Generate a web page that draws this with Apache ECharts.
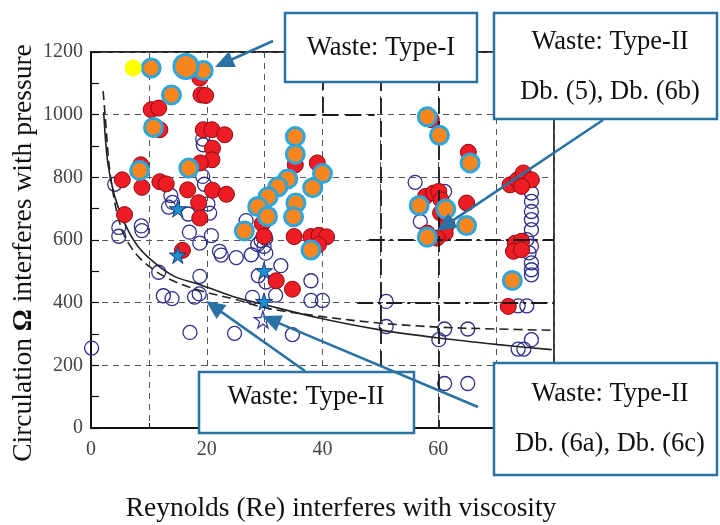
<!DOCTYPE html>
<html><head><meta charset="utf-8">
<script src="https://cdn.jsdelivr.net/npm/echarts@6/dist/echarts.min.js"></script>
<style>html,body{margin:0;padding:0;background:#fff}#c{width:720px;height:525px}</style>
</head><body><div id="c"></div>
<script>
// ---- data ----
const openCircles = [
  [0.1,255],[4.1,778],[4.8,640],[4.8,612],[8.7,645],[8.8,630],
  [19.3,922],[19.4,904],[19.3,803],[19.6,778],
  [13.8,742],[14.1,720],[13.4,705],[16.8,683],[20.2,715],[20.5,686],
  [17.0,625],[18.8,590],[20.8,614],[22.2,564],[22.5,552],[25.1,544],[27.7,553],[26.8,662],
  [28.8,585],[29.4,598],[29.9,580],[30.2,605],[30.2,558],[32.8,518],[28.9,486],[30.2,466],[38.0,470],
  [11.7,497],[18.8,484],[17.9,418],[18.7,428],[12.5,422],[14.0,413],
  [17.1,305],[24.8,302],[27.9,417],[31.9,424],[38.0,407],[40.0,407],[34.8,298],
  [56.0,784],[61.1,755],[56.9,659],[76.1,750],[76.1,723],[76.1,691],[76.1,665],[76.1,633],
  [75.3,601],[76.1,580],[75.7,559],[76.1,527],[76.1,505],[76.1,489],[51.0,404],[51.0,324],
  [61.1,316],[60.1,282],[65.1,316],[61.1,142],[65.1,142],[73.8,390],[75.3,390],[73.8,252],[74.8,252],[76.1,282]
];
const redCircles = [
  [18.8,1117],[19.0,1063],[19.8,1061],[10.4,1016],[11.7,1021],[11.9,952],[19.4,952],[20.9,952],
  [23.1,936],[21.0,893],[20.9,856],[18.9,846],[5.4,792],[8.8,768],[8.6,840],[11.9,786],[13.0,779],
  [16.7,760],[21.0,759],[23.4,746],[18.6,719],[18.8,670],[5.8,681],[35.1,611],[38.0,611],[39.4,615],
  [40.7,610],[39.3,585],[15.8,567],[39.1,846],[35.3,840],[29.6,652],[29.9,612],[32.0,470],[34.8,443],
  [58.8,984],[65.2,880],[72.4,776],[73.7,792],[74.7,814],[76.1,792],[74.4,771],[57.8,739],[59.2,750],
  [60.1,755],[60.5,728],[64.9,718],[60.4,686],[61.5,649],[61.2,622],[58.1,622],[59.8,606],[73.3,590],
  [74.4,596],[73.0,564],[74.4,569],[72.1,388]
];
const orangeCircles = [
  [10.4,1149],[19.4,1141],[13.9,1063],[10.8,959],[8.4,822],[16.9,830],
  [35.3,930],[35.3,874],[34.0,795],[40.0,812],[38.3,767],[32.3,770],[30.6,738],[28.8,707],
  [30.5,675],[35.4,718],[35.0,674],[26.5,629],[38.0,568],
  [58.1,993],[60.2,934],[65.5,846],[56.7,710],[61.3,699],[64.9,646],[58.1,609],[72.8,471]
];
const orangeBig = [[16.4,1154]];
const filledStars = [[15.0,700],[15.0,552],[29.9,502],[29.9,404]];
const hollowStars = [[29.7,346]];
const yellowPoint = [[7.3,1149]];
const solidCurve = [[2.2,1008],[2.9,846],[4.1,739],[5.8,654],[8.1,580],[11.0,527],[14.4,484],[18.6,459],
  [24.5,420],[29.9,394],[39.4,351],[49.7,314],[60.1,287],[70.4,266],[79.6,250]];
const dashedCurve = [[2.1,1075],[2.5,984],[3.4,800],[5.2,640],[7.5,562],[10.4,511],[13.8,473],[18.4,441],
  [25.0,410],[30.2,383],[39.4,357],[49.7,335],[60.1,322],[70.0,316],[79.6,312]];
const xTickLabels = [0,20,40,60,80];
const yTickLabels = [0,200,400,600,800,1000,1200];
// heavy dark overlay dashes visible in the figure (data coordinates)
const heavyLines = [
  [[36,1000],[49,1000]],[[40,1130],[40,1000]],[[50,1200],[50,0]],[[60,1200],[60,0]]
];
const heavyDashDot = [[[48,600],[80,600]],[[46,400],[80,400]]];

// ---- chart ----
const SERIF = "'Liberation Serif','DejaVu Serif',serif";
const C = '#2a72a3';
const STAR = 'path://M50,0 L61,35 L98,35 L68,57 L79,91 L50,70 L21,91 L32,57 L2,35 L39,35 Z';

function arrow(x1,y1,x2,y2){
  const L=19, W=8.5;
  const dx=x2-x1, dy=y2-y1, d=Math.hypot(dx,dy), ux=dx/d, uy=dy/d;
  const bx=x2-ux*L, by=y2-uy*L;
  return [
    {type:'line', z:100, shape:{x1:x1,y1:y1,x2:bx+ux*2,y2:by+uy*2}, style:{stroke:C,lineWidth:2.6}},
    {type:'polygon', z:100, shape:{points:[[x2,y2],[bx-uy*W,by+ux*W],[bx+uy*W,by-ux*W]]}, style:{fill:C}}
  ];
}
function box(x,y,w,h){
  return {type:'rect', z:100, shape:{x:x,y:y,width:w,height:h}, style:{fill:'#fff',stroke:C,lineWidth:2.5}};
}
function txt(x,y,s){
  return {type:'text', z:101, x:x, y:y, style:{text:s, fontFamily:SERIF, fontSize:26.5, fill:'#111',
    textAlign:'center', textVerticalAlign:'middle'}};
}

const chart = echarts.init(document.getElementById('c'), null, {renderer:'canvas'});
chart.setOption({
  animation:false,
  backgroundColor:'#fff',
  grid:{left:91,right:166,top:52,bottom:97,show:true,borderColor:'#222',borderWidth:1.8,backgroundColor:'transparent'},
  xAxis:{type:'value',min:0,max:80,interval:10,
    axisLine:{show:true,lineStyle:{color:'#111',width:2}},
    axisTick:{show:true,inside:true,length:5,lineStyle:{color:'#111'}},
    axisLabel:{margin:12,color:'#444',fontFamily:SERIF,fontSize:20,
      formatter:v=>xTickLabels.indexOf(v)>=0?String(v):''},
    splitLine:{show:true,lineStyle:{color:'#555',type:[6,5],width:1}}},
  yAxis:{type:'value',min:0,max:1200,interval:200,
    axisLine:{show:true,lineStyle:{color:'#111',width:2}},
    axisTick:{show:true,inside:true,length:8,lineStyle:{color:'#111',width:1.2}},
    minorTick:{show:true,splitNumber:2,length:8,lineStyle:{color:'#111',width:1.2}},
    axisLabel:{margin:8,color:'#444',fontFamily:SERIF,fontSize:20,
      formatter:v=>yTickLabels.indexOf(v)>=0?String(v):''},
    splitLine:{show:true,lineStyle:{color:'#555',type:[6,5],width:1}}},
  series:[
    {type:'scatter',data:openCircles,symbol:'circle',symbolSize:14,z:2,
      itemStyle:{color:'rgba(255,255,255,0)',borderColor:'#2e2e8e',borderWidth:1.3,opacity:1}},
    {type:'line',data:solidCurve,smooth:0.35,symbol:'none',z:3,
      lineStyle:{color:'#222',width:1.6},
      markLine:{silent:true,symbol:'none',label:{show:false},
        lineStyle:{color:'#1a1a1a',width:1.8,type:[16,7]},
        data:heavyLines.map(l=>[{coord:l[0]},{coord:l[1]}]).concat(
          heavyDashDot.map(l=>[{coord:l[0],lineStyle:{type:[16,5,3,5]}},{coord:l[1]}]))}},
    {type:'line',data:dashedCurve,smooth:0.35,symbol:'none',z:3,
      lineStyle:{color:'#222',width:1.6,type:[9,5]}},
    {type:'scatter',data:redCircles,symbol:'circle',symbolSize:16,z:4,
      itemStyle:{color:'#ee1c25',borderColor:'#8a0c10',borderWidth:1,opacity:1}},
    {type:'scatter',data:orangeCircles,symbol:'circle',symbolSize:18,z:5,
      itemStyle:{color:'#f7861f',borderColor:'#2ea6dc',borderWidth:3,opacity:1}},
    {type:'scatter',data:orangeBig,symbol:'circle',symbolSize:24,z:5,
      itemStyle:{color:'#f7861f',borderColor:'#2ea6dc',borderWidth:3,opacity:1}},
    {type:'scatter',data:filledStars,symbol:STAR,symbolSize:17,z:6,
      itemStyle:{color:'#1b8fd2',borderColor:'#1d3c78',borderWidth:1,opacity:1}},
    {type:'scatter',data:hollowStars,symbol:STAR,symbolSize:17,z:6,
      itemStyle:{color:'rgba(255,255,255,0)',borderColor:'#3a3aa0',borderWidth:1.3,opacity:1}},
    {type:'scatter',data:yellowPoint,symbol:'circle',symbolSize:17,z:6,
      itemStyle:{color:'#ffff00',opacity:1}}
  ],
  graphic:[
    {type:'text', z:101, x:24, y:253, rotation:Math.PI/2,
      style:{text:'Circulation {b|Ω} interferes with pressure', fontFamily:SERIF, fontSize:27.5, fill:'#111',
        textAlign:'center', textVerticalAlign:'middle',
        rich:{b:{fontFamily:SERIF,fontSize:27.5,fontWeight:'bold',fill:'#111'}}}},
    {type:'text', z:101, x:341, y:509,
      style:{text:'Reynolds (Re) interferes with viscosity', fontFamily:SERIF, fontSize:27.5, fill:'#111',
        textAlign:'center', textVerticalAlign:'middle'}},
    box(285,13,192,69), txt(381,48,'Waste: Type-I'),
    box(494,13,223,106), txt(610,42,'Waste: Type-II'), txt(610,92,'Db. (5), Db. (6b)'),
    box(199,372,215,61), txt(306,397,'Waste: Type-II'),
    box(494,363,223,112), txt(610,394,'Waste: Type-II'), txt(610,444,'Db. (6a), Db. (6c)')
  ].concat(arrow(273,41,215,67), arrow(603,120,437,231), arrow(305,371,206,301), arrow(478,407,262,316))
});
</script></body></html>
